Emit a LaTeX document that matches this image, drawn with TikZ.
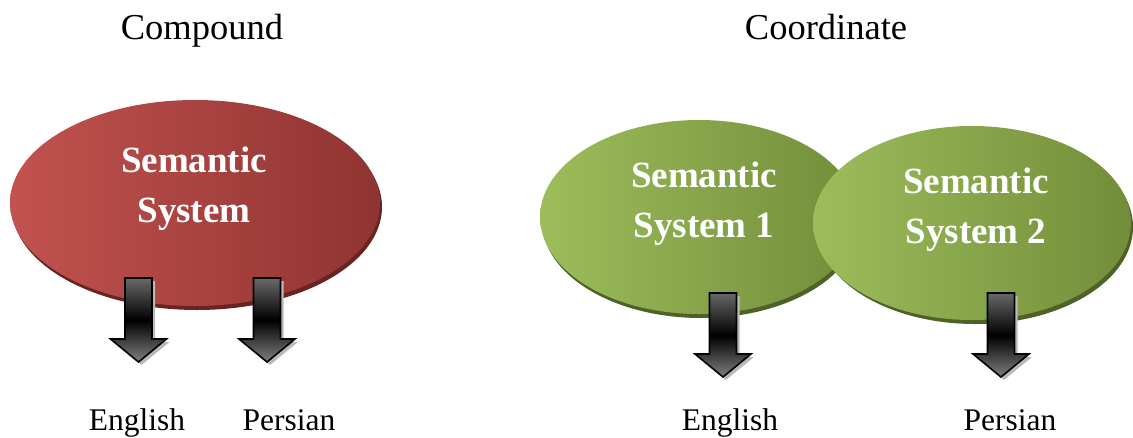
\documentclass[tikz,border=0pt]{standalone}
\usepackage{fontspec}
\setmainfont{Liberation Serif}
\usetikzlibrary{shapes.geometric}
\definecolor{redL}{RGB}{194,82,79}
\definecolor{redR}{RGB}{143,52,50}
\definecolor{redS}{RGB}{105,36,34}
\definecolor{grnL}{RGB}{157,189,91}
\definecolor{grnR}{RGB}{114,141,57}
\definecolor{grnS}{RGB}{78,97,39}
\definecolor{arrG}{RGB}{105,105,105}
\tikzset{
  blob/.style={ellipse, inner sep=0pt, draw=none},
  semtext/.style={text=white, align=center, font=\fontsize{37}{50}\selectfont\bfseries},
  title/.style={anchor=base, font=\fontsize{36.5}{40}\selectfont},
  lang/.style={anchor=base, font=\fontsize{31.5}{36}\selectfont},
  darrow/.pic={
    \fill[gray!55] ([shift={(3,3)}]-13.5,0) -- ++(27,0) -- ++(0,61) -- ++(14.5,0) -- ++(-28,23) -- ++(-28,-23) -- ++(14.5,0) -- cycle;
    \draw[line width=1.6pt, top color=arrG, bottom color=arrG!85, middle color=black]
      (-13.5,0) -- (13.5,0) -- (13.5,61) -- (28,61) -- (0,84) -- (-28,61) -- (-13.5,61) -- cycle;
  }
}
\begin{document}
\begin{tikzpicture}[x=1pt,y=-1pt]
\useasboundingbox (0,0) rectangle (1133,437);
% titles
\node[title] (tcomp) at (202,39.5) {Compound};
\node[title] (tcoor) at (826,39.5) {Coordinate};
% compound ellipse
\fill[redS] (197,207) ellipse [x radius=185, y radius=103];
\node[blob, minimum width=370, minimum height=206, left color=redL, right color=redR] (sem) at (195,203) {};
\node[semtext] (semt) at (194,188.5) {Semantic\\System};
% coordinate ellipses
\fill[grnS] (701,221) ellipse [x radius=159, y radius=97];
\node[blob, minimum width=318, minimum height=194, left color=grnL, right color=grnR] (sem1) at (699,217) {};
\fill[grnS] (975,227) ellipse [x radius=158, y radius=97];
\node[blob, minimum width=318, minimum height=194, left color=grnL, right color=grnR] (sem2) at (972,223) {};
\node[semtext] (sem1t) at (704,203.5) {Semantic\\System 1};
\node[semtext] (sem2t) at (976,209.5) {Semantic\\System 2};
% arrows
\coordinate (a1) at (138.5,278);
\coordinate (a2) at (267,278);
\coordinate (a3) at (723,293);
\coordinate (a4) at (1001,293);
\pic at (a1) {darrow};
\pic at (a2) {darrow};
\pic at (a3) {darrow};
\pic at (a4) {darrow};
% labels
\node[lang] (en1) at (137,430) {English};
\node[lang] (fa1) at (289,430) {Persian};
\node[lang] (en2) at (730,430) {English};
\node[lang] (fa2) at (1010,430) {Persian};
\end{tikzpicture}
\end{document}
